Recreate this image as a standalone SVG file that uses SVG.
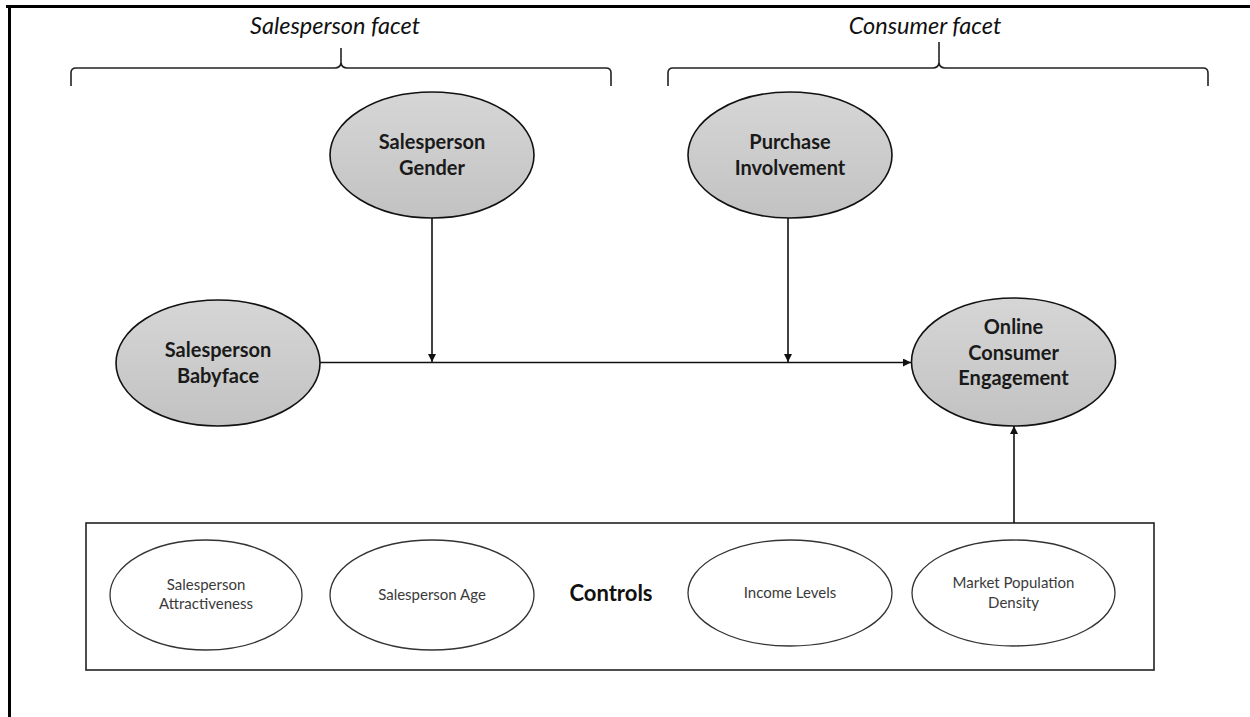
<svg xmlns="http://www.w3.org/2000/svg" width="1250" height="717" viewBox="0 0 1250 717">
  <defs>
    <linearGradient id="nodeFill" x1="0" y1="0" x2="0" y2="1">
      <stop offset="0" stop-color="#d6d6d6"/>
      <stop offset="1" stop-color="#c2c2c2"/>
    </linearGradient>
    <marker id="arrow" viewBox="0 0 10 10" refX="10" refY="5" markerWidth="8" markerHeight="8" markerUnits="userSpaceOnUse" orient="auto">
      <path d="M0,0 L10,5 L0,10 z" fill="#111"/>
    </marker>
  </defs>
  <style>
    .frame { stroke: #000; stroke-width: 3; fill: none; }
    .brace { stroke: #222; stroke-width: 1.6; fill: none; }
    .facet { font-family: Lato, "Liberation Sans", sans-serif; font-style: italic; font-size: 23.5px; fill: #111; text-anchor: middle; }
    .main { fill: url(#nodeFill); stroke: #111; stroke-width: 1.6; }
    .mainText { font-family: Lato, "Liberation Sans", sans-serif; font-weight: bold; font-size: 20px; fill: #1a1a1a; text-anchor: middle; }
    .ctrl { fill: #fff; stroke: #333; stroke-width: 1.3; }
    .ctrlText { font-family: Lato, "Liberation Sans", sans-serif; font-size: 15px; fill: #3a3a3a; text-anchor: middle; }
    .box { fill: none; stroke: #222; stroke-width: 1.6; }
    .boxTitle { font-family: Lato, "Liberation Sans", sans-serif; font-weight: bold; font-size: 22px; fill: #111; text-anchor: middle; }
    .conn { stroke: #111; stroke-width: 1.6; fill: none; marker-end: url(#arrow); }
  </style>
  <rect width="1250" height="717" fill="#fff"/>
  <g id="frame">
    <line class="frame" x1="6" y1="6.5" x2="1250" y2="6.5"/>
    <line class="frame" x1="9.5" y1="5" x2="9.5" y2="717"/>
  </g>
  <g id="salesperson-facet">
    <text class="facet" x="335" y="34">Salesperson facet</text>
    <path class="brace" d="M71,86 L71,73 Q71,68 76,68 L335,68 Q340,68 341,63 L341,48 M341,63 Q342,68 347,68 L606,68 Q611,68 611,73 L611,86"/>
  </g>
  <g id="consumer-facet">
    <text class="facet" x="925" y="34">Consumer facet</text>
    <path class="brace" d="M668,86 L668,73 Q668,68 673,68 L933,68 Q938,68 939,63 L939,42 M939,63 Q940,68 945,68 L1203,68 Q1208,68 1208,73 L1208,86"/>
  </g>
  <g id="node-gender">
    <ellipse class="main" cx="432" cy="155" rx="102" ry="63"/>
    <text class="mainText" x="432" y="149">Salesperson</text>
    <text class="mainText" x="432" y="175">Gender</text>
  </g>
  <g id="node-involvement">
    <ellipse class="main" cx="790" cy="155" rx="102" ry="63"/>
    <text class="mainText" x="790" y="149">Purchase</text>
    <text class="mainText" x="790" y="175">Involvement</text>
  </g>
  <g id="node-babyface">
    <ellipse class="main" cx="218" cy="363" rx="102" ry="63"/>
    <text class="mainText" x="218" y="357">Salesperson</text>
    <text class="mainText" x="218" y="383">Babyface</text>
  </g>
  <g id="node-engagement">
    <ellipse class="main" cx="1013.5" cy="362" rx="102" ry="64"/>
    <text class="mainText" x="1013.5" y="334">Online</text>
    <text class="mainText" x="1013.5" y="360">Consumer</text>
    <text class="mainText" x="1013.5" y="385">Engagement</text>
  </g>
  <g id="controls">
    <rect class="box" x="86" y="523" width="1068" height="147"/>
    <text class="boxTitle" x="611" y="601">Controls</text>
    <g id="ctrl-attractiveness">
      <ellipse class="ctrl" cx="206" cy="595" rx="96" ry="55"/>
      <text class="ctrlText" x="206" y="590">Salesperson</text>
      <text class="ctrlText" x="206" y="609">Attractiveness</text>
    </g>
    <g id="ctrl-age">
      <ellipse class="ctrl" cx="432" cy="595" rx="102" ry="55"/>
      <text class="ctrlText" x="432" y="600">Salesperson Age</text>
    </g>
    <g id="ctrl-income">
      <ellipse class="ctrl" cx="790" cy="593" rx="102" ry="53"/>
      <text class="ctrlText" x="790" y="598">Income Levels</text>
    </g>
    <g id="ctrl-density">
      <ellipse class="ctrl" cx="1013.5" cy="593" rx="101.5" ry="53"/>
      <text class="ctrlText" x="1013.5" y="588">Market Population</text>
      <text class="ctrlText" x="1013.5" y="608">Density</text>
    </g>
  </g>
  <g id="connectors">
    <line class="conn" x1="320" y1="362.5" x2="911" y2="362.5"/>
    <line class="conn" x1="432" y1="218" x2="432" y2="362"/>
    <line class="conn" x1="788" y1="218" x2="788" y2="362"/>
    <line class="conn" x1="1014" y1="523" x2="1014" y2="426"/>
  </g>
</svg>
